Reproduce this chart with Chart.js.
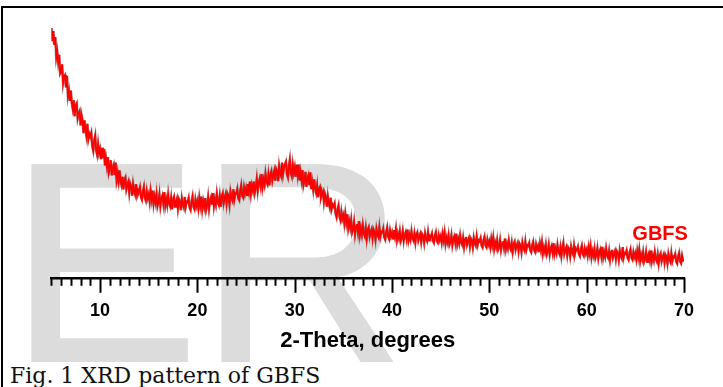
<!DOCTYPE html>
<html>
<head>
<meta charset="utf-8">
<script src="https://cdn.jsdelivr.net/npm/chart.js@4"></script>
<style>
  html, body { margin: 0; padding: 0; background: #fff; overflow: hidden; }
  body { width: 723px; height: 387px; position: relative; }
  .frame { position: absolute; left: 1px; top: 6px; width: 760px; height: 420px;
           border-top: 2px solid #000; border-left: 2px solid #000; }
  .mark { position: absolute; left: 9px; top: 120px; font: 285px/1 "Liberation Sans", Arial, sans-serif;
          color: #dcdcdc; -webkit-text-stroke: 2px #dcdcdc; white-space: nowrap; }
  .wrap { position: absolute; left: 0; top: 0; width: 723px; height: 360px; }
  .caption { position: absolute; left: 10px; top: 365px; font: 22px/1 "DejaVu Serif", serif;
             color: #111; white-space: nowrap; }
</style>
</head>
<body>
<div class="frame"></div>
<div class="mark">ER</div>
<div class="wrap"><canvas id="xrd"></canvas></div>
<div class="caption">Fig. 1 XRD pattern of GBFS</div>
<script>
// scan grid (degrees 2-theta)
const thetaStart = 5;
const thetaStep = 0.1;

// intensity, arbitrary counts, 10 readings per degree
const counts5to20 = [
  1026, 972, 1013, 957, 989, 906, 930, 887, 916, 839,
  847, 877, 801, 827, 833, 782, 829, 746, 768, 727,
  769, 717, 693, 729, 664, 708, 716, 656, 674, 684,
  626, 667, 646, 594, 647, 607, 583, 632, 571, 591,
  580, 595, 541, 522, 564, 584, 523, 505, 548, 512,
  528, 487, 534, 491, 529, 462, 493, 461, 496, 433,
  450, 483, 421, 452, 464, 423, 473, 403, 429, 398,
  441, 399, 382, 415, 363, 403, 412, 364, 382, 394,
  350, 386, 374, 337, 383, 357, 343, 385, 342, 362,
  358, 372, 332, 321, 355, 373, 329, 317, 354, 328,
  344, 313, 355, 323, 358, 305, 334, 311, 344, 295,
  312, 343, 295, 324, 337, 306, 352, 297, 322, 299,
  341, 306, 294, 327, 282, 322, 333, 292, 311, 325,
  286, 323, 313, 278, 326, 301, 289, 332, 292, 313,
  311, 327, 289, 279, 314, 334, 292, 282, 320, 296
];
const counts20to40 = [
  314, 285, 328, 298, 334, 283, 314, 292, 327, 279,
  298, 331, 284, 315, 330, 301, 348, 295, 322, 301,
  344, 311, 300, 335, 292, 333, 346, 307, 328, 343,
  306, 345, 336, 303, 352, 329, 318, 363, 324, 347,
  346, 364, 327, 319, 357, 379, 338, 330, 370, 347,
  367, 340, 385, 357, 395, 346, 378, 359, 395, 350,
  370, 404, 358, 390, 406, 378, 426, 374, 402, 382,
  426, 395, 385, 422, 380, 423, 437, 400, 422, 439,
  399, 446, 436, 397, 457, 430, 418, 473, 427, 455,
  455, 476, 426, 413, 459, 485, 429, 416, 464, 433,
  454, 415, 464, 425, 465, 400, 433, 403, 442, 381,
  400, 435, 374, 407, 420, 381, 433, 364, 392, 362,
  404, 366, 349, 379, 331, 367, 374, 330, 346, 355,
  313, 346, 331, 292, 335, 306, 289, 328, 283, 300,
  293, 305, 263, 249, 281, 297, 251, 237, 271, 243,
  257, 224, 263, 229, 261, 206, 232, 207, 237, 186,
  200, 230, 180, 209, 221, 189, 233, 177, 202, 178,
  215, 184, 172, 203, 162, 197, 207, 170, 188, 199,
  164, 198, 188, 158, 200, 178, 168, 206, 170, 189,
  187, 202, 166, 157, 189, 207, 169, 159, 193, 171
];
const counts40to70 = [
  186, 162, 196, 171, 200, 156, 180, 163, 190, 152,
  165, 191, 152, 176, 187, 161, 198, 155, 176, 158,
  191, 164, 154, 181, 146, 176, 186, 154, 170, 181,
  148, 179, 171, 144, 182, 161, 151, 186, 154, 172,
  169, 182, 152, 144, 173, 187, 153, 145, 175, 156,
  170, 146, 180, 155, 184, 140, 164, 147, 174, 136,
  148, 174, 135, 159, 170, 144, 181, 138, 159, 141,
  173, 146, 136, 163, 128, 158, 168, 136, 152, 163,
  130, 161, 153, 126, 164, 143, 133, 168, 136, 154,
  150, 163, 133, 125, 154, 168, 134, 126, 156, 137,
  150, 126, 160, 135, 164, 120, 144, 127, 154, 116,
  128, 154, 115, 139, 150, 124, 161, 118, 139, 121,
  153, 126, 116, 143, 108, 138, 148, 116, 132, 143,
  110, 141, 133, 106, 144, 123, 113, 148, 116, 134,
  130, 143, 113, 105, 134, 148, 114, 106, 136, 117,
  130, 106, 140, 115, 144, 100, 124, 107, 134,  96,
  109, 135,  96, 120, 131, 105, 142,  99, 120, 102,
  135, 108,  98, 125,  90, 120, 142,  98, 114, 125,
   93, 124, 116,  89, 127, 106,  96, 131,  99, 117,
  114, 127,  97,  89, 118, 132,  98,  90, 120, 101,
  115,  91, 125, 100, 129,  85, 109,  92, 119,  81,
   94, 120,  81, 105, 116,  90, 127,  84, 105,  87,
  120,  93,  83, 110,  75, 105, 115,  83,  99, 110,
   78, 109, 101,  74, 112,  91,  81, 126,  84, 102,
   99, 112,  82,  74, 103, 117,  83,  75, 105,  86,
  100,  76, 110,  85, 114,  70,  94,  77, 104,  66,
   79, 105,  66,  90, 101,  75, 112,  69,  90,  72,
  105,  78,  68,  95,  60,  90, 100,  68,  84,  95,
   63,  94,  86,  59,  97,  76,  66, 101,  69,  87,
   84,  97,  67,  59,  88, 102,  68,  60,  90,  71,
   74
];

const sampleName = 'GBFS';
const sampleLabelAt = { x: 70.4, y: 154 };

const counts = [...counts5to20, ...counts20to40, ...counts40to70];
const points = counts.map((c, i) => ({ x: thetaStart + i * thetaStep, y: c }));

// ruler style ticks: long every 10, short every 1
const rulerTicks = {
  id: 'rulerTicks',
  afterDraw(chart) {
    const { ctx, chartArea, scales: { x } } = chart;
    ctx.save();
    ctx.strokeStyle = '#000';
    ctx.lineWidth = 2;
    x.ticks.forEach(t => {
      const px = Math.round(x.getPixelForValue(t.value)) + 0.5;
      const len = t.value % 10 === 0 ? 15 : 8;
      ctx.beginPath();
      ctx.moveTo(px, chartArea.bottom);
      ctx.lineTo(px, chartArea.bottom + len);
      ctx.stroke();
    });
    // sample name next to the trace
    ctx.fillStyle = '#ff0000';
    ctx.font = 'bold 20px "Liberation Sans", Arial, sans-serif';
    ctx.textAlign = 'right';
    ctx.textBaseline = 'alphabetic';
    ctx.fillText(sampleName, x.getPixelForValue(sampleLabelAt.x), chart.scales.y.getPixelForValue(sampleLabelAt.y));
    ctx.restore();
  }
};

new Chart(document.getElementById('xrd'), {
  type: 'line',
  data: {
    datasets: [
      {
        label: 'GBFS red',
        data: points,
        borderColor: '#ff0000',
        borderWidth: 1.8,
        pointRadius: 0,
        tension: 0,
      },
      {
        label: 'GBFS edge',
        data: points,
        borderColor: 'rgba(90, 10, 10, 0.5)',
        borderWidth: 2.6,
        pointRadius: 0,
        tension: 0,
      }
    ]
  },
  options: {
    responsive: true,
    maintainAspectRatio: false,
    animation: false,
    layout: { padding: { left: 51.4, right: 39, top: 10, bottom: 8.2 } },
    scales: {
      x: {
        type: 'linear',
        min: 5,
        max: 70,
        grid: { drawOnChartArea: false, drawTicks: true, tickLength: 15, color: 'rgba(0,0,0,0)' },
        border: { display: true, color: '#000', width: 2.5 },
        ticks: {
          stepSize: 1,
          autoSkip: false,
          maxRotation: 0,
          padding: 7.7,
          color: '#000',
          font: { family: '"Liberation Sans", Arial, sans-serif', size: 18, weight: 'bold', lineHeight: 1.2 },
          callback: v => (v % 10 === 0 ? String(v) : '')
        },
        title: {
          display: true,
          text: '2-Theta, degrees',
          color: '#000',
          padding: 0,
          font: { family: '"Liberation Sans", Arial, sans-serif', size: 22, weight: 'bold', lineHeight: 1.0 }
        }
      },
      y: { display: false, min: 0, max: 1100 }
    },
    plugins: {
      legend: { display: false },
      tooltip: { enabled: false }
    }
  },
  plugins: [rulerTicks]
});
</script>
</body>
</html>
